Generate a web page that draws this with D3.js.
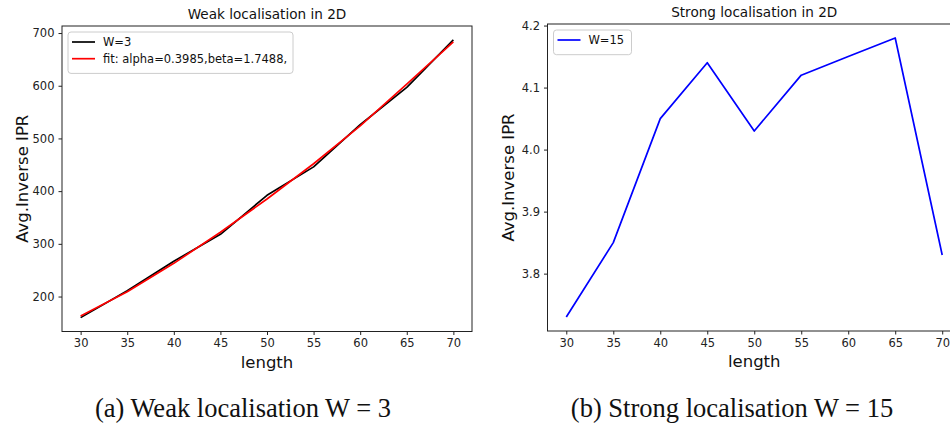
<!DOCTYPE html>
<html>
<head>
<meta charset="utf-8">
<script src="https://cdn.jsdelivr.net/npm/d3@7"></script>
<style>
  body { margin: 0; background: #fff; }
  svg { display: block; font-family: "DejaVu Sans", sans-serif; }
</style>
</head>
<body>
<div id="vis"></div>
<script>
// data
const lengths = [30, 35, 40, 45, 50, 55, 60, 65, 70];
const weakIPR = [160, 211, 267, 318, 392, 446, 526, 597, 687];
const weakFit = [163, 209, 263, 322, 385, 452, 524, 603, 683];
const strongIPR = [3.73, 3.85, 4.05, 4.14, 4.03, 4.12, 4.15, 4.18, 3.83];
const xTicks = [30, 35, 40, 45, 50, 55, 60, 65, 70];
const weakTicks = [200, 300, 400, 500, 600, 700];
const strongTicks = [3.8, 3.9, 4.0, 4.1, 4.2];

const width = 950, height = 425;

const svg = d3.select("#vis").append("svg")
    .attr("width", width)
    .attr("height", height);

svg.append("rect").attr("width", width).attr("height", height).attr("fill", "#fff");

// pad domain by 5% like matplotlib
function padded(vals) {
  const [a, b] = d3.extent(vals);
  const m = (b - a) * 0.05;
  return [a - m, b + m];
}

function panel(opt) {
  const g = svg.append("g");
  const x = d3.scaleLinear().domain(padded(lengths)).range([opt.left, opt.right]);
  const allY = [].concat(...opt.series.map(s => s.values));
  const y = d3.scaleLinear().domain(padded(allY)).range([opt.bottom, opt.top]);

  const clip = "clip" + opt.id;
  g.append("clipPath").attr("id", clip)
    .append("rect")
      .attr("x", opt.left).attr("y", opt.top)
      .attr("width", opt.right - opt.left).attr("height", opt.bottom - opt.top);

  const line = d3.line().x((d, i) => x(lengths[i])).y(d => y(d));

  opt.series.forEach(s => {
    g.append("path")
      .datum(s.values)
      .attr("clip-path", `url(#${clip})`)
      .attr("fill", "none")
      .attr("stroke", s.color)
      .attr("stroke-width", 1.7)
      .attr("stroke-linejoin", "round")
      .attr("d", line);
  });

  // axes
  const xAxis = g.append("g")
      .attr("transform", `translate(0,${opt.bottom})`)
      .call(d3.axisBottom(x).tickValues(xTicks).tickSize(3.5).tickPadding(4));
  const yAxis = g.append("g")
      .attr("transform", `translate(${opt.left},0)`)
      .call(d3.axisLeft(y).tickValues(opt.yTicks).tickSize(3.5).tickPadding(4)
        .tickFormat(opt.yFormat));
  [xAxis, yAxis].forEach(a => {
    a.select(".domain").remove();
    a.selectAll("text").attr("font-size", 11.5).attr("fill", "#222")
      .attr("font-family", "DejaVu Sans, sans-serif");
    a.selectAll("line").attr("stroke", "#222");
  });

  // frame
  g.append("rect")
    .attr("x", opt.left).attr("y", opt.top)
    .attr("width", opt.right - opt.left).attr("height", opt.bottom - opt.top)
    .attr("fill", "none").attr("stroke", "#222").attr("stroke-width", 1);

  g.append("text")
    .attr("x", (opt.left + opt.right) / 2).attr("y", opt.top - 7)
    .attr("text-anchor", "middle").attr("font-size", 13.6).attr("fill", "#111")
    .text(opt.title);

  g.append("text")
    .attr("x", (opt.left + opt.right) / 2).attr("y", opt.bottom + 36)
    .attr("text-anchor", "middle").attr("font-size", 16.5).attr("fill", "#111")
    .text("length");

  g.append("text")
    .attr("transform", `translate(${opt.left - 34},${(opt.top + opt.bottom) / 2}) rotate(-90)`)
    .attr("text-anchor", "middle").attr("font-size", 16.5).attr("fill", "#111")
    .text("Avg.Inverse IPR");

  // legend
  const lg = g.append("g").attr("transform", `translate(${opt.left + 6},${opt.top + 6})`);
  lg.append("rect")
    .attr("width", opt.legendW).attr("height", 8 + opt.series.length * 16.7)
    .attr("rx", 3)
    .attr("fill", "#fff").attr("fill-opacity", 0.8)
    .attr("stroke", "#ccc").attr("stroke-width", 1);
  opt.series.forEach((s, i) => {
    const yy = 10 + i * 16.7;
    lg.append("line")
      .attr("x1", 4).attr("x2", 27).attr("y1", yy).attr("y2", yy)
      .attr("stroke", s.color).attr("stroke-width", 1.7);
    lg.append("text")
      .attr("x", 35).attr("y", yy).attr("dy", "0.35em")
      .attr("font-size", 11.5).attr("fill", "#111")
      .text(s.name);
  });

  g.append("text")
    .attr("x", opt.captionX).attr("y", 417)
    .attr("text-anchor", "middle")
    .attr("font-family", "Liberation Serif, serif")
    .attr("font-size", 26.5).attr("fill", "#111")
    .text(opt.caption);
}

panel({
  id: "a", left: 62, right: 472, top: 26, bottom: 331.5,
  title: "Weak localisation in 2D",
  yTicks: weakTicks, yFormat: d3.format("d"),
  legendW: 225,
  series: [
    { name: "W=3", values: weakIPR, color: "#000" },
    { name: "fit: alpha=0.3985,beta=1.7488,", values: weakFit, color: "#f00" }
  ],
  caption: "(a) Weak localisation W = 3", captionX: 243
});

panel({
  id: "b", left: 547.5, right: 961, top: 24, bottom: 331,
  title: "Strong localisation in 2D",
  yTicks: strongTicks, yFormat: d3.format(".1f"),
  legendW: 78,
  series: [
    { name: "W=15", values: strongIPR, color: "#00f" }
  ],
  caption: "(b) Strong localisation W = 15", captionX: 732
});
</script>
</body>
</html>
